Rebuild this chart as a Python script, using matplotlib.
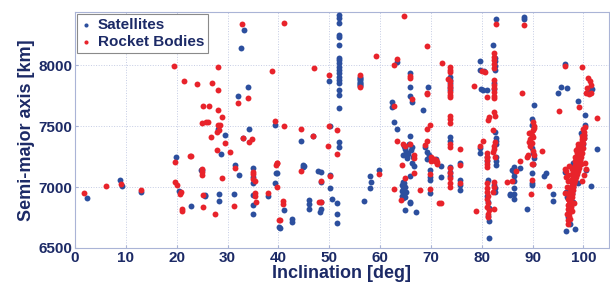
import matplotlib
matplotlib.use("Agg")
import matplotlib.pyplot as plt

# Satellites: inclination [deg], semi-major axis [km]
sat_inc = [2.4, 8.9, 9.3, 12.9, 19.9, 20.4, 22.9,
           33.2, 32.7, 34.1, 32.0, 28.1, 29.6, 34.2, 33.0, 28.8, 31.4, 24.9, 32.2,
           35.0, 35.0, 35.0, 39.6, 39.3, 28.4, 28.4, 25.5, 31.3, 35.0, 35.0, 35.0,
           38.0, 40.1, 24.8, 25.5,
           51.9, 51.9, 51.9, 51.9, 51.9, 51.9, 51.9, 51.9, 51.9, 51.9, 51.9, 51.9,
           51.9, 51.9, 51.9, 51.9, 51.9, 51.9, 51.9, 51.9,
           50.1, 50.0, 39.4, 44.5, 46.9, 39.8, 44.9, 44.9, 45.1, 47.8, 48.3, 48.3,
           50.1, 50.2, 41.1, 46.0, 46.0, 46.0, 48.3, 48.3, 48.1, 50.6, 51.5, 51.5,
           51.5, 56.8, 40.4, 42.7, 42.7,
           56.0, 56.0, 56.0, 56.0, 56.0, 56.0, 56.0, 56.0, 56.0,
           63.3, 65.8, 65.8, 69.5, 65.8, 66.2, 62.3, 62.3, 68.4, 62.8, 63.3, 65.9,
           64.8, 65.0, 65.2, 65.5, 66.0, 66.5, 64.6, 65.3, 66.2, 65.7, 64.9,
           65.9, 66.6, 66.2,
           64.5, 64.8, 64.3, 65.0, 64.6, 64.4, 65.1, 64.7, 64.3, 65.0, 64.5,
           64.9, 65.8, 65.8, 67.0,
           68.8, 69.3, 69.6, 69.2, 69.9, 69.9, 69.9, 69.9,
           58.0, 58.3, 58.1, 59.7,
           73.8, 73.8, 73.8, 73.8, 73.8,
           73.8, 73.8, 73.8, 73.8, 73.8,
           75.8, 75.8, 75.8, 75.8, 71.0, 71.9, 71.9,
           79.7, 79.7, 80.5, 80.2, 81.1, 79.8, 79.6, 79.6, 81.1, 81.1, 81.2,
           81.0, 81.3, 81.5, 81.2, 81.5, 81.4,
           82.9, 82.3, 82.7, 82.7, 82.7, 82.6, 82.5, 82.5, 82.6, 82.9, 82.9, 82.9,
           82.8, 82.9, 82.9, 82.5, 82.6, 82.6,
           88.4, 88.3, 90.2, 89.9, 89.8, 89.8, 90.1, 90.2, 90.0, 89.9, 89.9, 89.9,
           92.2, 92.7, 94.0, 94.0,
           87.6, 86.4, 86.0, 86.4, 86.4, 86.4, 86.4, 85.5, 86.4, 86.3, 88.9, 85.6,
           96.3, 95.6, 96.8, 95.0, 99.0, 101.2, 101.7, 102.6, 100.4, 100.4, 101.6,
           96.6, 98.4, 100.2,
           97.0, 97.2, 97.5, 97.3, 97.8, 98.0, 97.6, 98.5, 98.8, 99.2, 99.4, 99.6,
           99.9, 100.1, 99.5, 97.1, 96.8, 97.9, 98.9, 98.0, 96.5, 97.4, 96.4, 100.6]
sat_sma = [6907, 7060, 7011, 6962, 7243, 6967, 6844,
           8284, 8142, 7820, 7749, 7475, 7426, 7475, 7405, 7270, 7180, 7140, 7100,
           7153, 7085, 7035, 7117, 7030, 6943, 6888, 6932, 6940, 6934, 6850, 6781,
           6929, 6672, 7139, 6929,
           8410, 8383, 8342, 8246, 8232, 8164, 8055, 8041, 8014, 7986, 7959, 7932,
           7904, 7877, 7850, 7795, 7754, 7645, 7371, 7330,
           7503, 7869, 7506, 7377, 7418, 7117, 7178, 7161, 7170, 7129, 7125, 7039,
           7101, 6992, 6811, 6893, 6858, 6823, 6875, 6820, 6798, 6899, 6871, 6781,
           6702, 6885, 6664, 6741, 6713,
           7905, 7895, 7885, 7875, 7865, 7855, 7845, 7835, 7828,
           8027, 7932, 7820, 7822, 7743, 7699, 7694, 7658, 7631, 7530, 7473, 7418,
           7340, 7310, 7290, 7270, 7300, 7250, 7260, 7240, 7330, 7355, 7325,
           7093, 7172, 7199,
           7044, 7030, 7015, 7000, 6985, 6970, 6960, 6945, 6930, 6915, 6907,
           6811, 6875, 6865, 6798,
           7330, 7290, 7260, 7230, 7139, 7085, 7057, 6948,
           7093, 7044, 6989, 7139,
           7904, 7877, 7850, 7822, 7795,
           7407, 7377, 7167, 7125, 7093,
           7194, 7057, 7016, 6975, 7230, 7175, 7085,
           8036, 7959, 7955, 7795, 7795, 7800, 7317, 7282, 7250, 7210, 7057,
           6930, 6880, 6830, 6760, 6724, 6585,
           8374, 8164, 8060, 8030, 7990, 7960, 7850, 7800, 7454, 7399, 7375, 7350,
           7248, 7210, 7180, 7020, 6990, 6960,
           8396, 8377, 7670, 7555, 7508, 7317, 7276, 7235, 7189, 7112, 7035, 7016,
           7093, 7112, 6946, 6888,
           7158, 7167, 7140, 7125, 7093, 7046, 6992, 6940, 6940, 6899, 6822, 6932,
           8008, 7817, 7809, 7768, 7708, 7800, 7800, 7309, 7588, 7508, 7008,
           6639, 6656, 7430,
           6750, 6800, 6850, 6900, 6950, 7000, 7050, 7100, 7150, 7200, 7250, 7300,
           7350, 7400, 7440, 6990, 6920, 6880, 7030, 7200, 6960, 6700, 7120, 7140]

# Rocket bodies: inclination [deg], semi-major axis [km]
rb_inc = [1.8, 6.0, 9.0, 12.9, 19.5, 21.4, 22.7, 19.6, 19.6, 20.1, 20.6, 20.8,
          21.0, 21.0,
          32.8, 28.1, 38.8, 23.9, 27.0, 28.2, 34.1, 32.0, 25.2, 26.4, 28.1, 29.0,
          24.9, 25.7, 26.2, 28.1, 28.5, 28.0, 28.4, 26.8, 33.0, 34.8, 34.3, 29.6,
          30.4, 27.9, 22.8, 31.4, 24.9, 24.9, 25.0, 35.0, 35.0, 35.0, 35.5, 28.9,
          39.5, 39.7, 39.7, 25.2, 25.2, 27.5, 31.3, 35.5, 35.5, 35.6, 38.0, 40.1,
          51.5, 51.5, 50.0, 50.0, 47.1, 41.1, 56.0, 56.0, 39.4, 41.1, 44.5, 46.9,
          49.7, 39.8, 44.5, 48.3, 50.2, 41.0, 41.0, 48.0, 48.3, 40.4,
          64.7, 59.3, 69.2, 63.3, 62.8, 65.8, 65.8, 69.2, 69.2, 66.2, 62.8, 69.9,
          69.2, 63.3, 64.5, 65.0, 65.8, 66.6, 66.6, 64.4, 66.6, 65.0, 64.2, 62.7,
          67.8, 68.8, 69.3, 70.0, 70.0, 70.6, 70.9, 69.9, 69.9, 71.6, 59.7,
          72.2, 73.8, 73.8, 73.8, 73.4, 73.8, 73.8, 73.8, 73.8, 73.8, 73.8, 73.8,
          73.8, 73.8, 73.8, 73.8, 75.8, 73.8, 73.8, 73.8, 73.8, 73.8, 75.8, 75.8,
          71.0, 71.2, 71.3, 71.9, 78.8, 78.4, 80.0, 80.6, 81.1, 81.3, 80.2, 79.6,
          81.1, 81.1, 81.1, 81.1, 81.1, 81.1, 81.1,
          81.0, 81.2, 81.0, 81.3, 81.1, 81.4, 81.2, 81.3,
          82.9, 82.5, 82.5, 82.5, 82.4, 82.4, 82.5, 82.5, 82.5, 82.5, 82.5, 82.5,
          82.5, 82.6, 81.4, 82.3, 82.7, 82.5, 82.4, 82.2, 82.7, 82.5, 82.4, 82.2,
          82.4,
          88.4, 88.0, 90.0, 90.2, 90.0, 89.3, 89.6, 90.0, 89.3, 89.8, 90.0, 90.2,
          89.2, 91.8, 89.9, 90.1, 89.9, 89.7, 93.3, 87.6, 86.7, 85.9, 85.0, 89.0,
          89.5, 89.9, 90.3, 89.6,
          96.3, 99.8, 95.3, 99.2, 101.0, 101.4, 101.6, 100.7, 100.5, 101.1, 101.6,
          102.6, 100.4,
          96.9, 97.0, 97.2, 96.8, 97.3, 97.0, 97.5, 97.1, 97.4, 96.9, 97.6, 97.2,
          97.8, 97.4, 97.9, 97.5, 98.0, 97.7, 98.2, 97.9, 98.4, 98.0, 98.6, 98.2,
          98.8, 98.4, 99.0, 98.6, 99.1, 98.8, 99.3, 98.9, 99.4, 99.1, 99.6, 99.2,
          99.7, 99.4, 99.9, 99.5, 100.0, 99.7, 100.1, 99.8, 100.2, 100.0, 96.5,
          97.0, 97.8, 98.3, 100.5, 100.2, 99.8, 97.4, 97.7, 98.1, 96.4, 97.0, 98.5,
          99.0, 96.6, 96.3, 97.2, 98.0, 99.5, 100.3,
          97.1, 97.4, 97.6, 97.8, 97.3, 97.9, 98.1, 97.5, 98.3, 97.8, 98.6, 98.0,
          98.9, 98.4, 99.2, 98.7, 99.5, 99.0, 99.8, 96.9, 97.6, 98.2, 98.8, 99.3,
          97.2, 97.7, 98.4, 99.6, 100.1, 96.8]
rb_sma = [6953, 7011, 7028, 6975, 7994, 7869, 7254, 7205, 7041, 7016, 6943, 6955,
          6822, 6806,
          8334, 7981, 7951, 7842, 7855, 7792, 7730, 7691, 7667, 7667, 7628, 7571,
          7522, 7533, 7535, 7508, 7510, 7448, 7465, 7410, 7405, 7391, 7367, 7358,
          7287, 7303, 7254, 7158, 7150, 7125, 7100, 7126, 7104, 7063, 7050, 7072,
          7180, 7200, 7003, 6932, 6833, 6781, 6847, 6951, 6929, 6874, 6951, 6727,
          7273, 7467, 7497, 7921, 7973, 8342, 7918, 7817, 7541, 7497, 7475, 7418,
          7336, 7199, 7134, 7050, 7090, 6888, 6858, 6875, 6878, 6730,
          8404, 8074, 8159, 8052, 8000, 7913, 7896, 7768, 7760, 7724, 7661, 7506,
          7473, 7377, 7350, 7340, 7350, 7262, 7237, 7180, 7117, 7076, 6891, 6984,
          6973, 7344, 7380, 7210, 7245, 7230, 7215, 7104, 6984, 6871, 7104,
          8019, 7981, 7960, 7940, 7890, 7870, 7840, 7810, 7780, 7755, 7735, 7582,
          7555, 7527, 7352, 7331, 7309, 7153, 7112, 7071, 7035, 7003, 7180, 7030,
          7221, 7205, 7189, 6871, 6801, 7828, 7950, 7945, 7735, 7549, 7380, 7336,
          7279, 7250, 7220, 7190, 7164, 7030, 6990,
          6962, 6930, 6900, 6870, 6840, 6810, 6780, 6757,
          8333, 8096, 8070, 8045, 8010, 7980, 7877, 7840, 7810, 7780, 7750, 7730,
          7617, 7585, 7571, 7467, 7370, 7340, 7310, 7285, 7245, 7044, 7000, 6960,
          6817,
          8328, 7768, 7535, 7500, 7467, 7445, 7440, 7412, 7371, 7358, 7295, 7260,
          7260, 7295, 7189, 7185, 7057, 6946, 7008, 7213, 7129, 7049, 7044, 7250,
          7390, 7425, 7480, 7340,
          7994, 7981, 7626, 7660, 7891, 7870, 7840, 7815, 7770, 7765, 7770,
          7568, 7489,
          6700, 6730, 6760, 6780, 6800, 6820, 6840, 6860, 6880, 6900, 6910, 6930,
          6945, 6960, 6975, 6990, 7005, 7020, 7030, 7045, 7055, 7070, 7080, 7095,
          7105, 7120, 7130, 7145, 7160, 7175, 7190, 7205, 7220, 7235, 7250, 7265,
          7280, 7300, 7320, 7340, 7360, 7380, 7400, 7420, 7450, 7475, 7080,
          7100, 7150, 7250, 7150, 7100, 7050, 6740, 6800, 6870, 6950, 7050, 7300,
          7330, 7130, 7150, 7170, 7110, 7190, 7200,
          6790, 6830, 6870, 6920, 6960, 7000, 7040, 7060, 7085, 7110, 7135, 7160,
          7185, 7210, 7245, 7275, 7310, 7350, 7390, 6850, 6990, 7120, 7230, 7280,
          6890, 6940, 7180, 7270, 7430, 7000]

navy = "#1c2a66"
blue = "#2c4f9e"
red = "#e8232b"

plt.rcParams["font.family"] = ["Liberation Sans", "DejaVu Sans"]

fig = plt.figure(figsize=(6.1, 2.87), dpi=100)
ax = fig.add_axes([0.123, 0.136, 0.875, 0.822])

ax.scatter(sat_inc, sat_sma, s=18, color=blue, linewidths=0, label="Satellites", zorder=3)
ax.scatter(rb_inc, rb_sma, s=18, color=red, linewidths=0, label="Rocket Bodies", zorder=3)

ax.set_xlim(0, 105)
ax.set_ylim(6500, 8435)
ax.set_xticks(range(0, 101, 10))
ax.set_yticks([6500, 7000, 7500, 8000])

ax.grid(True, linestyle=":", color="#c5cce4", linewidth=0.7)
for sp in ax.spines.values():
    sp.set_color("#aab4d6")
ax.tick_params(direction="in", length=2, color="#aab4d6", labelsize=11,
               labelcolor=navy, pad=2)
for lab in ax.get_xticklabels() + ax.get_yticklabels():
    lab.set_fontweight("bold")

ax.set_xlabel("Inclination [deg]", fontsize=13, fontweight="bold", color=navy, labelpad=0)
ax.set_ylabel("Semi-major axis [km]", fontsize=13, fontweight="bold", color=navy, labelpad=2)

leg = ax.legend(loc="upper left", prop={"weight": "bold", "size": 11},
                handlelength=0.6, handletextpad=0.5, labelspacing=0.2,
                borderaxespad=0.15, borderpad=0.25, fancybox=False,
                edgecolor="#8a8a8a", framealpha=1, markerscale=0.7)
for t in leg.get_texts():
    t.set_color(navy)
leg.get_frame().set_linewidth(0.8)

fig.savefig("out.png", dpi=100)
